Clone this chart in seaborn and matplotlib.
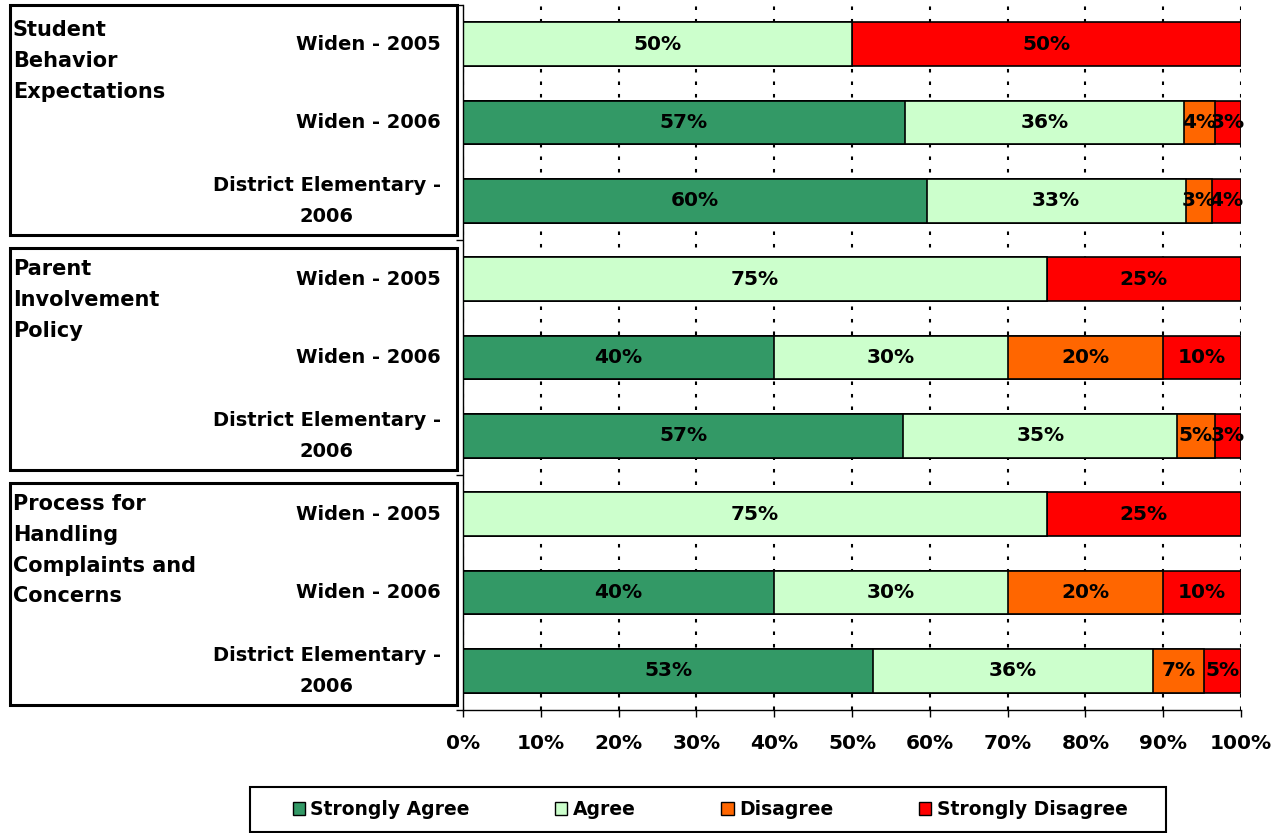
import numpy as np
import pandas as pd
import matplotlib
matplotlib.use("Agg")
import matplotlib.pyplot as plt
import matplotlib.transforms as mtransforms
from matplotlib.patches import Patch, Rectangle
import seaborn as sns

# data (percent of responses)
groups = ["Student\nBehavior\nExpectations",
          "Parent\nInvolvement\nPolicy",
          "Process for\nHandling\nComplaints and\nConcerns"]
categories = ["Widen - 2005", "Widen - 2006", "District Elementary -\n2006"]

strongly_agree = [0, 56.8, 59.6, 0, 40, 56.6, 0, 40, 52.7]
agree = [50, 35.9, 33.3, 75, 30, 35.2, 75, 30, 36.0]
disagree = [0, 3.9, 3.4, 0, 20, 4.8, 0, 20, 6.6]
strongly_disagree = [50, 3.4, 3.7, 25, 10, 3.4, 25, 10, 4.7]

series = ["Strongly Agree", "Agree", "Disagree", "Strongly Disagree"]
colors = ["#339966", "#CCFFCC", "#FF6600", "#FF0000"]

rows = [f"{g}|{c}" for g in groups for c in categories]
df = pd.DataFrame({"row": rows,
                   "Strongly Agree": strongly_agree,
                   "Agree": agree,
                   "Disagree": disagree,
                   "Strongly Disagree": strongly_disagree})
cum = df[series].cumsum(axis=1)

sns.set_style("white")
plt.rcParams["font.family"] = ["DejaVu Sans"]
plt.rcParams["font.weight"] = "bold"
plt.rcParams["text.color"] = "black"
plt.rcParams["xtick.color"] = "black"
plt.rcParams["ytick.color"] = "black"
plt.rcParams["axes.labelcolor"] = "black"

fig = plt.figure(figsize=(12.84, 8.33), dpi=100)
ax = fig.add_axes([463 / 1284, 1 - 710 / 833, 778 / 1284, 705 / 833])

# stacked bars: draw cumulative totals back to front
for s, col in reversed(list(zip(series, colors))):
    sns.barplot(x=cum[s], y=df["row"], color=col, saturation=1,
                edgecolor="black", linewidth=1.2, width=0.56,
                errorbar=None, orient="h", ax=ax)

# segment labels
for i in range(len(df)):
    left = 0
    for s in series:
        v = df.loc[i, s]
        if v > 0:
            ax.text(left + v / 2, i, f"{v:.0f}%", ha="center", va="center",
                    fontsize=14.5, fontweight="bold", color="black")
        left += v

ax.set_xlim(0, 100)
ax.set_ylim(8.5, -0.5)
ax.set_xticks(np.arange(0, 101, 10))
ax.set_xticklabels([f"{t}%" for t in range(0, 101, 10)])
ax.set_xlabel("")
ax.set_ylabel("")

ax.set_yticks(range(len(rows)))
ax.set_yticklabels(categories * len(groups))
for lab in ax.get_yticklabels():
    lab.set_multialignment("center")
    lab.set_linespacing(1.8)
    lab.set_va("center")
ax.set_yticks([-0.5, 2.5, 5.5, 8.5], minor=True)

ax.tick_params(axis="y", which="major", left=False, length=0, pad=16,
               labelsize=14)
ax.tick_params(axis="y", which="minor", left=True, length=5, width=1,
               direction="out", color="black")
ax.tick_params(axis="x", bottom=True, length=5, width=1, direction="out",
               color="black", pad=12, labelsize=14.5)

for side in ["top", "right"]:
    ax.spines[side].set_visible(False)
for side in ["left", "bottom"]:
    ax.spines[side].set_color("black")
    ax.spines[side].set_linewidth(1)

ax.set_axisbelow(True)
ax.xaxis.grid(True, color="black", linewidth=1.5, linestyle=(0, (1.7, 4.3)))
ax.yaxis.grid(False)

# group boxes and names on the left
trans = mtransforms.blended_transform_factory(fig.transFigure, ax.transData)
for g, name in enumerate(groups):
    top = g * 3 - 0.4 if g else -0.5
    bottom = g * 3 + 2.43
    fig.add_artist(Rectangle((10 / 1284, top), 447 / 1284, bottom - top,
                             transform=trans, fill=False, edgecolor="black",
                             linewidth=2.2, clip_on=False))
    fig.text(13 / 1284, g * 3 - 0.5 + (0.19 if g == 0 else 0.24), name,
             transform=trans, ha="left", va="top", fontsize=15,
             fontweight="bold", linespacing=1.68)

# legend
handles = [Patch(facecolor=c, edgecolor="black", linewidth=1) for c in colors]
fig.add_artist(Rectangle((250 / 1284, 1 - 832 / 833), 916 / 1284, 45 / 833,
                         transform=fig.transFigure, fill=False,
                         edgecolor="black", linewidth=1.5))
fig.legend(handles, series, loc="center", ncol=4, frameon=False,
           mode="expand",
           bbox_to_anchor=(285 / 1284, 1 - 832 / 833, 850 / 1284, 45 / 833),
           fontsize=13.5, handlelength=0.65, handleheight=0.65,
           handletextpad=0.3, borderaxespad=0)

fig.savefig("out.png", dpi=100)
